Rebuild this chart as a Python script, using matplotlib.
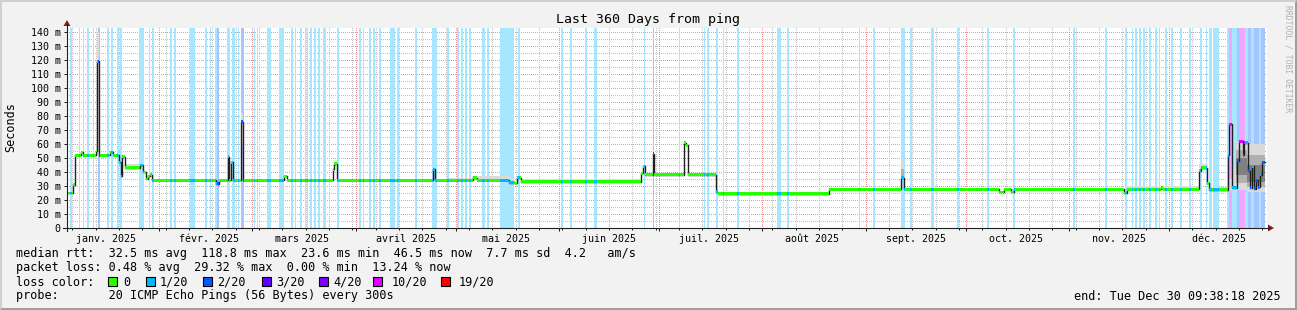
import datetime as dt
import numpy as np
import matplotlib
matplotlib.use('Agg')
import matplotlib.pyplot as plt
from matplotlib.transforms import Affine2D
from matplotlib.patches import Polygon, Rectangle
from matplotlib.lines import Line2D
import matplotlib.colors as mc

plt.rcParams['font.family'] = ['DejaVu Sans Mono']

W, H = 1297, 310
start = dt.datetime(2025, 1, 4, 9, 38, 18)
end = dt.datetime(2025, 12, 30, 9, 38, 18)
span = (end - start).total_seconds() / 86400.0   # 360 days
data_end = 359.4

# median rtt in ms, step function (days since start -> value)
med_day = [0.0, 1.8, 2.4, 4.2, 4.8, 8.7, 9.0, 9.6, 12.9, 13.8, 15.6, 16.2, 16.5, 17.4,
           21.9, 22.8, 23.7, 24.3, 24.9, 25.5, 44.7, 45.6, 48.3, 48.6, 49.2, 49.8,
           52.2, 52.8, 65.1, 66.0, 79.8, 80.1, 81.0, 109.8, 110.4, 121.8, 123.0,
           132.6, 134.4, 135.0, 136.2, 172.2, 172.8, 173.4, 175.8, 176.1, 185.1,
           185.7, 186.3, 194.7, 195.3, 228.6, 250.2, 251.1, 279.6, 281.1, 283.2,
           284.1, 317.1, 318.0, 328.2, 328.8, 339.6, 340.2, 342.0, 342.6, 348.3,
           348.6, 349.5, 351.0, 351.6, 352.8, 353.1, 354.3, 354.9, 355.5, 356.1,
           356.7, 357.3, 357.9, 358.5]
med_ms = [25, 31, 52, 54, 52, 55, 119, 52, 54, 52, 47, 37, 51, 43,
          45, 40, 35, 37, 38, 34, 31.5, 34, 51, 34, 47, 34,
          76, 34, 37, 34, 42, 46, 34, 42, 34, 36, 34,
          32.5, 32, 36, 33, 39, 44, 38, 53, 38, 61,
          59, 38, 26, 24.5, 27.7, 36, 27.7, 25.7, 27.7, 25.7,
          27.7, 25, 27.7, 28.8, 27.7, 41, 43, 32, 27.3, 52,
          74, 28.6, 48, 62, 52, 61, 41, 28.6, 44, 28,
          34, 29, 38, 47]

# loss periods: start day, end day, packets lost out of 20
band_start = [0.9, 3.6, 4.8, 6.0, 7.8, 9.3, 12.0, 13.2, 15.0, 15.9, 21.6, 24.6, 25.5, 30.9,
              32.1, 36.9, 41.4, 42.9, 44.4, 45.0, 48.0, 49.5, 51.3, 52.2, 56.1, 57.0, 60.0,
              63.6, 67.2, 68.4, 69.9, 71.4, 72.0, 72.9, 74.1, 75.3, 76.8, 81.0, 87.6, 88.8,
              90.6, 91.8, 93.6, 96.9, 99.0, 104.4, 109.5, 114.0, 117.0, 118.2, 119.4, 120.6,
              124.5, 126.0, 129.9, 135.3, 148.2, 150.9, 155.4, 158.1, 173.1, 175.8, 183.6,
              191.1, 192.0, 194.7, 196.8, 201.0, 213.0, 216.0, 237.6, 241.8, 250.2, 252.9,
              259.2, 267.0, 276.0, 283.8, 301.8, 311.4, 317.4, 319.5, 320.4, 321.6, 322.8,
              324.6, 326.4, 327.6, 329.4, 331.2, 333.9, 336.6, 339.9, 341.7, 342.6, 343.8,
              348.0, 348.6, 349.5, 351.0, 351.6, 353.4, 354.3, 355.2, 356.1, 357.6, 358.2]
band_end = [1.5, 3.9, 5.1, 6.6, 8.1, 9.9, 12.6, 13.8, 15.6, 16.5, 23.1, 24.9, 26.1, 31.5,
            32.7, 38.4, 42.0, 43.2, 45.0, 45.6, 48.9, 50.4, 51.6, 53.1, 56.4, 57.3, 61.2,
            65.1, 67.8, 68.7, 70.5, 71.7, 72.3, 73.5, 74.7, 75.9, 77.7, 81.6, 88.2, 89.1,
            91.2, 92.4, 94.2, 98.4, 99.6, 105.0, 111.0, 114.6, 117.6, 118.8, 120.0, 121.2,
            125.4, 126.6, 134.1, 135.9, 148.8, 151.5, 156.0, 159.0, 173.4, 176.1, 183.9,
            191.4, 192.6, 195.3, 197.1, 201.6, 214.2, 216.6, 237.9, 242.4, 251.4, 253.5,
            260.1, 267.6, 276.6, 284.4, 302.4, 312.0, 318.0, 319.8, 321.0, 322.2, 323.4,
            325.2, 327.0, 327.9, 330.0, 331.8, 334.5, 337.2, 340.5, 342.0, 343.5, 345.6,
            348.6, 349.5, 351.0, 351.6, 353.4, 354.3, 355.2, 356.1, 357.6, 358.2, 359.4]
band_lost = [1, 1, 1, 1, 1, 2, 1, 1, 1, 1, 1, 1, 1, 1,
             1, 1, 1, 1, 1, 2, 1, 1, 1, 2, 1, 1, 1,
             1, 1, 1, 1, 1, 1, 1, 1, 1, 1, 1, 1, 1,
             1, 1, 1, 1, 1, 1, 1, 1, 1, 1, 1, 1,
             1, 1, 1, 1, 1, 1, 1, 1, 1, 2, 1,
             1, 1, 1, 1, 1, 1, 1, 1, 1, 1, 1,
             1, 1, 1, 1, 1, 1, 1, 1, 1, 1, 1,
             1, 1, 1, 1, 1, 1, 1, 1, 1, 1, 1,
             1, 10, 1, 2, 10, 1, 2, 1, 2, 1, 2]

# smoke (ping spread): start day, end day, low ms, high ms, density layer
smoke_start = [9.0, 17.4, 52.2, 81.6, 99.6, 114.6, 121.5, 136.2, 195.3, 250.2, 250.2,
               318.0, 339.6, 342.6, 348.0, 349.8, 350.7, 350.7, 350.7, 354.0, 354.0, 354.0]
smoke_end = [9.6, 21.9, 52.8, 87.0, 108.0, 121.5, 133.0, 172.0, 228.6, 251.1, 251.1,
             339.6, 342.0, 348.0, 349.8, 350.7, 354.0, 354.0, 354.0, 359.4, 359.4, 359.4]
smoke_lo = [52, 43, 60, 34, 34, 34, 34, 33, 24.5, 36, 36,
            27.7, 43, 27.3, 26.5, 26.5, 27, 32, 38, 26, 29, 33]
smoke_hi = [140, 45.5, 82, 35.3, 35.2, 35.6, 36.8, 34.8, 25.8, 47, 42,
            29.8, 45.5, 29.3, 35, 42, 62, 56, 50, 60, 52, 45]
smoke_layer = [0, 0, 0, 0, 0, 0, 0, 0, 0, 0, 1,
               0, 0, 0, 0, 0, 0, 1, 2, 0, 1, 2]

loss_labels = ['0', '1/20', '2/20', '3/20', '4/20', '10/20', '19/20']
loss_steps = [0, 1, 2, 3, 4, 10, 19]
loss_colors = ['#26ff00', '#00b8ff', '#0059ff', '#5e00ff', '#7e00ff', '#dd00ff', '#ff0000']

month_names = ['janv.', 'févr.', 'mars', 'avril', 'mai', 'juin', 'juil.', 'août',
               'sept.', 'oct.', 'nov.', 'déc.']

rtt_stats = [32.5, 118.8, 23.6, 46.5, 7.7, 4.2]
loss_stats = [0.48, 29.32, 0.00, 13.24]


def loss_color(n):
    i = max(k for k, s in enumerate(loss_steps) if n >= s)
    return loss_colors[i]


def light(n, a=0.35):
    r, g, b = mc.to_rgb(loss_color(n))
    return (1 - a + a * r, 1 - a + a * g, 1 - a + a * b)


def day_of(t):
    return (t - start).total_seconds() / 86400.0


fig = plt.figure(figsize=(W / 100, H / 100), dpi=100)
fig.patch.set_facecolor('#f2f2f2')
px = Affine2D().scale(1.0 / W, -1.0 / H).translate(0, 1) + fig.transFigure

# frame shading
fig.add_artist(Polygon([[0, 0], [W, 0], [W - 2, 2], [2, 2], [2, H - 2], [0, H]],
                       transform=px, color='#cfcfcf', lw=0))
fig.add_artist(Polygon([[W, 0], [W, H], [0, H], [2, H - 2], [W - 2, H - 2], [W - 2, 2]],
                       transform=px, color='#9e9e9e', lw=0))

ax = fig.add_axes([67 / W, (H - 228) / H, 1200 / W, 200 / H])
ymax = 200 / 1.4
ax.set_facecolor('white')
for s in ax.spines.values():
    s.set_visible(False)

axis_col = '#1f1f1f'

mondays = []
t = dt.datetime(2025, 1, 6)
while t < end:
    mondays.append(day_of(t))
    t += dt.timedelta(days=7)
month_starts = [day_of(dt.datetime(2025, m, 1)) for m in range(2, 13)]

# dotted grid, drawn pixel by pixel as an image under the data
gw, gh = 1200, 200
grid_img = np.zeros((gh, gw, 4))
minor_rgba = (0.56, 0.56, 0.56, 0.55)
major_rgba = (0.87, 0.31, 0.31, 0.6)
for v in range(5, 141, 5):
    r = int(round(gh - v * gh / ymax))
    grid_img[r, 0::2] = major_rgba if v % 10 == 0 else minor_rgba
for d in mondays:
    c = int(round(d * gw / span))
    if 0 <= c < gw:
        grid_img[0::2, c] = minor_rgba
for d in month_starts:
    c = int(round(d * gw / span))
    grid_img[0::2, c] = major_rgba
ax.imshow(grid_img, extent=(0, span, 0, ymax), aspect='auto',
          interpolation='nearest', zorder=0.5)
ax.set_xlim(0, span)
ax.set_ylim(0, ymax)

# loss background
for s, e, n in zip(band_start, band_end, band_lost):
    ax.axvspan(s, e, color=light(n), lw=0, zorder=1)

# smoke
smoke_cols = ['#dadada', '#b0b0b0', '#808080']
ax.bar(smoke_start, np.subtract(smoke_hi, smoke_lo), bottom=smoke_lo,
       width=np.subtract(smoke_end, smoke_start), align='edge',
       color=[smoke_cols[k] for k in smoke_layer], lw=0, zorder=2)

# median line
ax.step(np.append(med_day, data_end), np.append(med_ms, med_ms[-1]), where='post',
        color='#202020', lw=1.0, zorder=3)

xs = np.arange(0, data_end, 0.3)
mv = np.array(med_ms)[np.searchsorted(med_day, xs + 1e-6, side='right') - 1]
lost = np.zeros(len(xs), dtype=int)
for s, e, n in zip(band_start, band_end, band_lost):
    lost[(xs >= s - 1e-6) & (xs < e - 1e-6)] = n
w = 1.05
ax.bar(xs, 2 * w, bottom=mv - w, width=0.32, align='edge',
       color=[loss_color(n) for n in lost], lw=0, zorder=4)

# ticks and labels
ax.set_yticks(range(0, 141, 10))
ax.set_yticklabels(['0'] + ['%d m' % v for v in range(10, 141, 10)])
ax.tick_params(axis='y', length=2.5, width=0.72, color=axis_col, pad=2.0, labelsize=7.2)
ax.set_xticks(month_starts)
ax.set_xticks(mondays, minor=True)
ax.set_xticklabels([])
ax.tick_params(axis='x', which='major', length=2.5, width=0.72, color=axis_col)
ax.tick_params(axis='x', which='minor', length=1.5, width=0.72, color=axis_col)

for m, name in enumerate(month_names):
    d = day_of(dt.datetime(2025, m + 1, 16))
    ax.text(d, -13.5 / 200, '%s 2025' % name, transform=ax.get_xaxis_transform(),
            ha='center', va='baseline', fontsize=7.2)

# axes lines and arrows
arrow_col = '#801f1f'
fig.add_artist(Line2D([63, 1269], [228, 228], transform=px, color=axis_col, lw=0.8))
fig.add_artist(Line2D([67, 67], [231, 24], transform=px, color=axis_col, lw=0.8))
fig.add_artist(Polygon([[1268, 224.5], [1268, 231.5], [1274, 228]], transform=px,
                       color=arrow_col, lw=0))
fig.add_artist(Polygon([[63.5, 26], [70.5, 26], [67, 20]], transform=px,
                       color=arrow_col, lw=0))

# texts
fig.text(648, 23.5, 'Last 360 Days from ping', transform=px, ha='center',
         va='baseline', fontsize=9.5)
fig.text(11, 127, 'Seconds', transform=px, ha='center', va='center',
         rotation=90, fontsize=8.5)
fig.text(1288, 5, 'RRDTOOL / TOBI OETIKER', transform=px, ha='center', va='top',
         rotation=270, fontsize=5.8, color='#b0b0b0')

fs = 8.5
fig.text(16, 257.5, 'median rtt:  %.1f ms avg  %.1f ms max  %.1f ms min  %.1f ms now  '
         '%.1f ms sd  %.1f   am/s' % tuple(rtt_stats), transform=px, va='baseline', fontsize=fs)
fig.text(16, 271.5, 'packet loss: %.2f %% avg  %.2f %% max  %.2f %% min  %.2f %% now'
         % tuple(loss_stats), transform=px, va='baseline', fontsize=fs)
fig.text(16, 285.5, 'loss color:', transform=px, va='baseline', fontsize=fs)
box_x = [108, 146, 203, 262, 319, 373, 441]
text_x = [123, 160, 217, 276, 333, 392, 459]
for bx, tx, lab, c in zip(box_x, text_x, loss_labels, loss_colors):
    fig.add_artist(Rectangle((bx, 277), 9, 9, transform=px, facecolor=c,
                             edgecolor='black', lw=0.8))
    fig.text(tx, 285.5, lab, transform=px, va='baseline', fontsize=fs)
fig.text(16, 299.5, 'probe:       20 ICMP Echo Pings (56 Bytes) every 300s',
         transform=px, va='baseline', fontsize=fs)
fig.text(1281, 299.5, 'end: ' + end.strftime('%a %b %d %H:%M:%S %Y'),
         transform=px, ha='right', va='baseline', fontsize=fs)

fig.savefig('out.png', dpi=100, facecolor=fig.get_facecolor())
